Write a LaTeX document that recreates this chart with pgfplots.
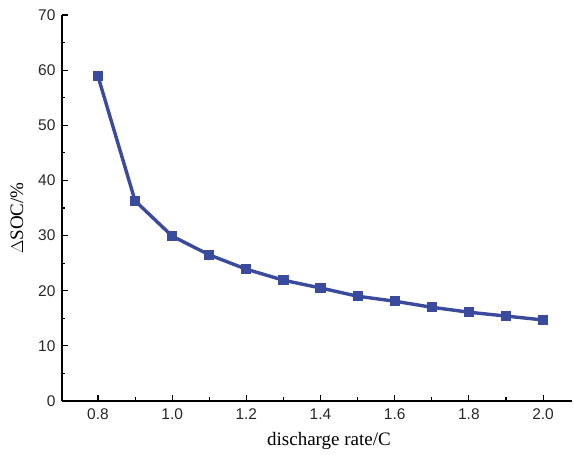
\documentclass[border=0pt]{standalone}
\usepackage{pgfplots}
\pgfplotsset{compat=1.18}
\usepackage{fontspec}
\setmainfont{Liberation Serif}
\newfontfamily\arial{Liberation Sans}
\definecolor{lineblue}{RGB}{58,74,156}
\begin{document}
\begin{tikzpicture}
\useasboundingbox (-62pt,-54pt) rectangle (512pt,401pt);
\begin{axis}[
  at={(0,0)}, anchor=south west,
  scale only axis,
  width=510pt, height=386pt,
  xmin=0.703, xmax=2.078,
  ymin=0, ymax=70,
  axis lines=left,
  axis line style={-, line width=1.3pt},
  tick align=inside,
  tick style={black, line width=1.1pt},
  major tick length=6pt,
  minor tick length=3.5pt,
  xtick={0.8,1.0,...,2.0},
  ytick={0,10,...,70},
  minor x tick num=1,
  minor y tick num=1,
  xticklabel style={/pgf/number format/fixed, /pgf/number format/fixed zerofill, /pgf/number format/precision=1, yshift=-4pt},
  yticklabel style={xshift=-3pt},
  /pgf/number format/assume math mode=true,
  ticklabel style={font=\arial\fontsize{15.5}{18}\selectfont, text=black!85},
  xlabel={discharge rate/C},
  ylabel={$\Delta$SOC/\%},
  label style={font=\fontsize{19}{22}\selectfont},
  xlabel style={yshift=-6pt, xshift=12pt},
  ylabel style={yshift=8pt, xshift=-10pt},
  clip=false,
]
\addplot[color=lineblue, line width=3.4pt, mark=square*, mark size=4.6pt,
  mark options={line width=0pt, fill=lineblue}] coordinates {
  (0.8,58.9) (0.9,36.3) (1.0,29.9) (1.1,26.5) (1.2,23.9) (1.3,21.9)
  (1.4,20.5) (1.5,19.0) (1.6,18.1) (1.7,17.0) (1.8,16.1) (1.9,15.4) (2.0,14.7)
};
\end{axis}
\end{tikzpicture}
\end{document}
